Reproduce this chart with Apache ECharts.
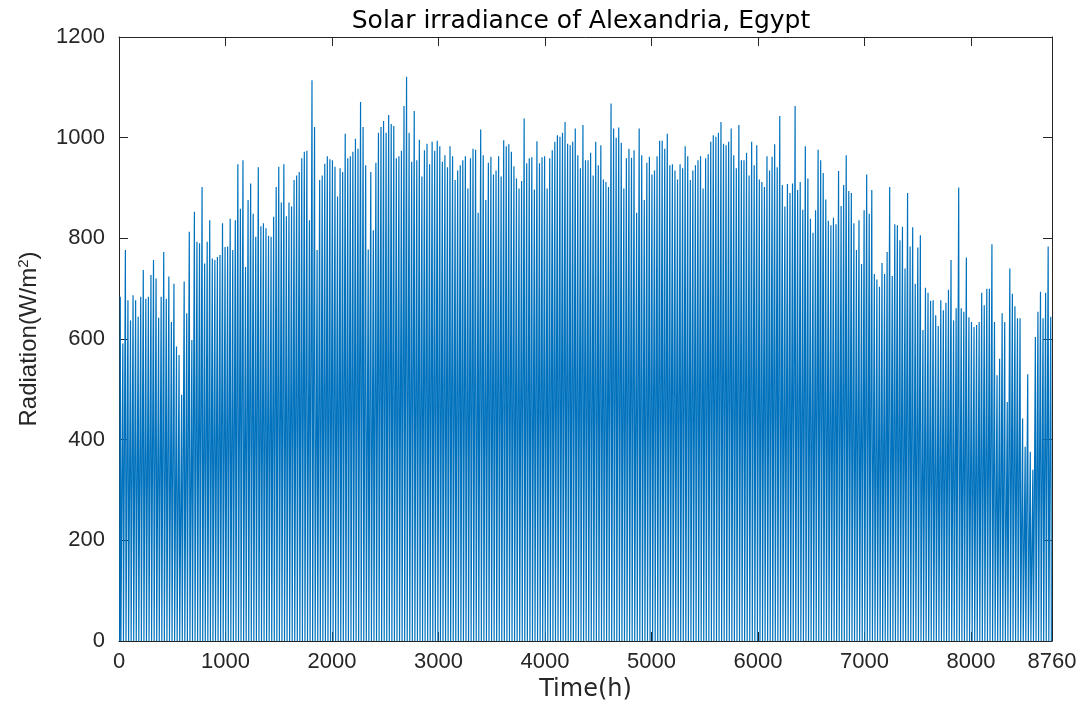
<!DOCTYPE html>
<html>
<head>
<meta charset="utf-8">
<script src="https://cdn.jsdelivr.net/npm/echarts@6/dist/echarts.min.js"></script>
<style>
  html, body { margin: 0; padding: 0; background: #fff; }
  #chart { width: 1088px; height: 709px; }
</style>
</head>
<body>
<div id="chart"></div>
<script>
// daily peak irradiance (W/m2), one value per day
var peaksJanFeb = [684, 591, 777, 677, 637, 687, 677, 644, 684, 737, 680, 684, 727, 757, 720, 642, 684, 773, 680, 724, 634, 710, 585, 568, 489, 714, 651, 813, 598, 853,
                   793, 790, 902, 750, 793, 836, 760, 757, 763, 767, 830, 783, 784, 839, 777, 836, 947, 859, 955, 743, 876, 909, 849, 803, 941, 824, 830, 820, 805, 803, 843];
var peaksMarApr = [902, 942, 871, 947, 844, 871, 863, 916, 925, 932, 959, 972, 974, 836, 1114, 1021, 777, 916, 925, 948, 963, 957, 955, 942, 883, 939, 932, 1008, 959,
                   963, 972, 998, 978, 1071, 1021, 945, 778, 932, 816, 950, 1010, 1021, 1033, 1010, 1045, 1027, 1023, 959, 963, 974, 1063, 1121, 1010, 952, 1053, 955, 996, 923, 975, 988];
var peaksMayJul = [947, 992, 974, 994, 983, 952, 965, 941, 983, 963, 916, 935, 945, 955, 963, 899, 959, 978, 976, 851, 1016, 965, 876, 950, 962, 927, 935, 963, 923, 995,
                   983, 987, 972, 943, 919, 899, 914, 1038, 949, 959, 961, 897, 993, 949, 961, 963, 899, 959, 975, 992, 1005, 1002, 1010, 1031, 988, 985, 992, 1018, 965, 939, 1025,
                   955, 955, 970, 925, 992, 945, 985, 917, 912, 902, 1068, 1018, 1000, 1020, 990, 899, 959, 978, 960, 975, 851, 1018, 965, 876, 950, 962, 927, 935, 963, 994];
var peaksAugSep = [994, 978, 1008, 945, 947, 935, 917, 947, 939, 983, 963, 916, 935, 945, 955, 963, 899, 959, 967, 992, 1005, 1002, 1010, 1031, 988, 985, 992, 1018, 965, 939, 1025,
                   955, 955, 970, 925, 992, 945, 985, 917, 912, 902, 963, 935, 962, 987, 941, 1043, 906, 863, 908, 890, 909, 1063, 896, 912, 857, 983, 919, 839, 811, 856];
var peaksOctDec = [976, 955, 930, 877, 835, 826, 841, 828, 934, 864, 906, 965, 894, 890, 830, 777, 836, 749, 856, 927, 849, 896, 729, 718, 704, 751, 729, 773, 902, 725, 828,
                   826, 796, 823, 740, 890, 784, 822, 710, 782, 806, 618, 702, 692, 676, 677, 647, 626, 677, 657, 672, 698, 757, 637, 661, 901, 661, 654, 762, 643, 634, 624,
                   628, 634, 692, 667, 700, 700, 788, 634, 528, 561, 651, 634, 475, 740, 690, 665, 641, 641, 442, 386, 530, 376, 340, 604, 654, 694, 641, 692, 784, 644];

var dailyPeaks = [].concat(peaksJanFeb, peaksMarApr, peaksMayJul, peaksAugSep, peaksOctDec);
var xTicks = [0, 1000, 2000, 3000, 4000, 5000, 6000, 7000, 8000, 8760];
var hoursPerDay = 24;
var sunrise = 6, noon = 12, sunset = 18;

// each day: zero at night, rising to the peak at noon
var hourly = [];
for (var d = 0; d < dailyPeaks.length; d++) {
    hourly.push([d * hoursPerDay + sunrise, 0]);
    hourly.push([d * hoursPerDay + noon, dailyPeaks[d]]);
    hourly.push([d * hoursPerDay + sunset, 0]);
}

var axisColor = '#262626';
var font = 'Liberation Sans, Arial, Helvetica, sans-serif';
var wideFont = 'DejaVu Sans, Verdana, sans-serif';

var myChart = echarts.init(document.getElementById('chart'));
var option = {
    animation: false,
    title: {
        text: 'Solar irradiance of Alexandria, Egypt',
        left: 576, top: 4, textAlign: 'center',
        textStyle: { fontFamily: wideFont, fontSize: 25, fontWeight: 'normal', color: '#000' }
    },
    grid: { left: 119, right: 36, top: 37, bottom: 68 },
    xAxis: [{
        type: 'value', min: 0, max: 8760, interval: 1000,
        name: 'Time(h)', nameLocation: 'middle', nameGap: 36,
        nameTextStyle: { fontFamily: wideFont, fontSize: 24, color: axisColor },
        axisLine: { show: true, onZero: false, lineStyle: { color: axisColor, width: 1 } },
        axisTick: { show: true, inside: true, length: 9, lineStyle: { color: axisColor } },
        axisLabel: { fontFamily: font, fontSize: 22, color: axisColor, margin: 10, showMaxLabel: true,
            formatter: function (v) { return xTicks.indexOf(v) >= 0 ? String(v) : ''; } },
        splitLine: { show: false }
    }, {
        type: 'value', min: 0, max: 8760, interval: 1000, position: 'top',
        axisLine: { show: true, onZero: false, lineStyle: { color: axisColor, width: 1 } },
        axisTick: { show: true, inside: true, length: 9, lineStyle: { color: axisColor } },
        axisLabel: { show: false },
        splitLine: { show: false }
    }],
    yAxis: [{
        type: 'value', min: 0, max: 1200, interval: 200,
        name: 'Radiation(W/m{sup|2})', nameLocation: 'middle', nameGap: 76,
        nameTextStyle: { fontFamily: font, fontSize: 24, color: axisColor,
            rich: { sup: { fontFamily: font, fontSize: 15, color: axisColor, padding: [0, 0, 12, 0] } } },
        axisLine: { show: true, onZero: false, lineStyle: { color: axisColor, width: 1 } },
        axisTick: { show: true, inside: true, length: 9, lineStyle: { color: axisColor } },
        axisLabel: { fontFamily: font, fontSize: 22, color: axisColor, margin: 14,
            formatter: function (v) { return String(v); } },
        splitLine: { show: false }
    }, {
        type: 'value', min: 0, max: 1200, interval: 200, position: 'right',
        axisLine: { show: true, onZero: false, lineStyle: { color: axisColor, width: 1 } },
        axisTick: { show: true, inside: true, length: 9, lineStyle: { color: axisColor } },
        axisLabel: { show: false },
        splitLine: { show: false }
    }],
    series: [{
        type: 'line',
        xAxisIndex: 0, yAxisIndex: 0,
        data: hourly,
        showSymbol: false,
        sampling: null,
        lineStyle: { color: '#0072BD', width: 1.2 },
        itemStyle: { color: '#0072BD' }
    }]
};
myChart.setOption(option);
</script>
</body>
</html>
